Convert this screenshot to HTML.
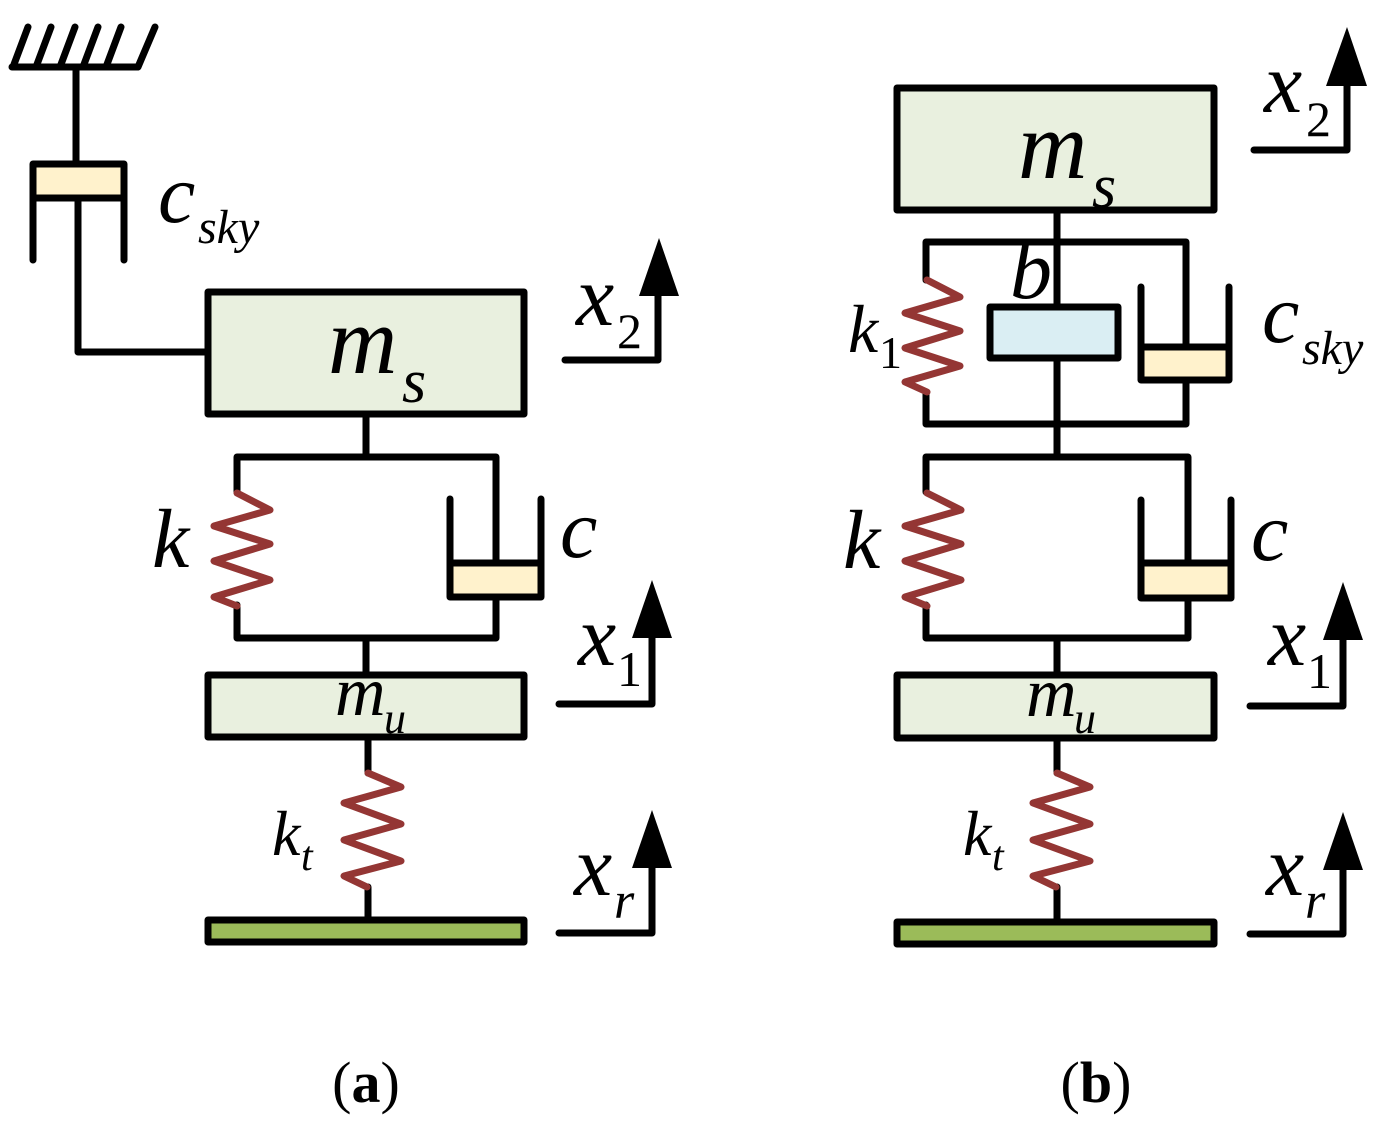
<!DOCTYPE html>
<html><head><meta charset="utf-8"><style>
html,body{margin:0;padding:0;background:#fff;}
svg{display:block;}
text{font-family:"Liberation Serif",serif;font-style:italic;fill:#000;}
.n{font-style:normal;}
</style></head><body>
<svg width="1386" height="1142" viewBox="0 0 1386 1142" xmlns="http://www.w3.org/2000/svg">
<g stroke="#000" stroke-width="7" fill="none" stroke-linecap="round" stroke-linejoin="round">
<!-- LEFT -->
<!-- ground -->
<path d="M12 67 H138 M13 67 L28 27 M36 67 L51 27 M60 67 L75 27 M83 67 L98 27 M106 67 L121 27 M138 67 L155 27"/>
<path d="M76 67 V165"/>
<!-- sky damper inverted -->
<rect x="33" y="166" width="90" height="31" fill="#FFF2CC" stroke="none"/>
<path d="M33 260 V164 H124 V260 M33 198 H124"/>
<path d="M78 198 V352 H208"/>
<!-- ms -->
<rect x="208" y="292" width="316" height="122" fill="#E9F0DF"/>
<path d="M366 414 V457 M237 457 H496 M237 457 V492 M237 605 V638 H496 V598 M496 457 V562"/>
<rect x="452" y="563" width="88" height="32" fill="#FFF2CC" stroke="none"/>
<path d="M450 499 V597 H541 V499 M450 563 H541"/>
<path d="M366 638 V675"/>
<rect x="208" y="675" width="316" height="62" fill="#E9F0DF"/>
<path d="M368 737 V773 M368 887 V920"/>
<rect x="208" y="920" width="316" height="22" fill="#9BBB59"/>
<!-- arrows -->
<path d="M565 360 H658 V290 M559 704 H652 V634 M559 933 H652 V863"/>
<!-- RIGHT -->
<rect x="897" y="88" width="317" height="122" fill="#E9F0DF"/>
<path d="M1057 210 V307 M926 242 H1186 M926 242 V280 M926 392 V424 H1186 V380 M1186 242 V347"/>
<rect x="990" y="307" width="128" height="51" fill="#DAEEF3"/>
<rect x="1143" y="347" width="84" height="32" fill="#FFF2CC" stroke="none"/>
<path d="M1141 287 V380 H1229 V287 M1141 347 H1229"/>
<path d="M1057 358 V457 M926 457 H1188 M926 457 V492 M926 605 V638 H1188 V598 M1188 457 V562"/>
<rect x="1143" y="563" width="86" height="33" fill="#FFF2CC" stroke="none"/>
<path d="M1141 500 V598 H1231 V500 M1141 563 H1231"/>
<path d="M1057 638 V675"/>
<rect x="897" y="675" width="317" height="63" fill="#E9F0DF"/>
<path d="M1057 738 V773 M1057 887 V920"/>
<rect x="897" y="922" width="317" height="22" fill="#9BBB59"/>
<path d="M1254 150 H1347 V84 M1250 706 H1343 V636 M1250 934 H1343 V866"/>
</g>
<!-- springs -->
<g stroke="#943634" stroke-width="7" fill="none" stroke-linejoin="round" stroke-linecap="round">
<path d="M237 493 L270 510 L214 526 L270 544 L214 561 L270 580 L214 597 L237 606"/>
<path d="M368 773 L401 787 L344 803 L401 824 L344 840 L401 861 L344 876 L367 887"/>
<path d="M927 280 L960 297 L905 313 L960 331 L905 348 L960 366 L905 382 L927 392"/>
<path d="M927 493 L961 510 L905 526 L961 544 L905 561 L961 580 L905 597 L927 606"/>
<path d="M1057 773 L1090 787 L1033 803 L1090 824 L1033 840 L1090 861 L1033 876 L1056 887"/>
</g>
<!-- arrowheads -->
<g fill="#000">
<polygon points="659,238 679,296 639,296"/>
<polygon points="652,580 672,638 632,638"/>
<polygon points="652,810 672,868 632,868"/>
<polygon points="1347,27 1367,86 1326,86"/>
<polygon points="1343,582 1363,640 1323,640"/>
<polygon points="1343,812 1363,870 1323,870"/>
</g>
<!-- labels left -->
<text x="158" y="222" font-size="84">c</text><text x="198" y="243" font-size="48">sky</text>
<text x="576" y="325" font-size="86">x</text><text x="617" y="348" font-size="50" class="n">2</text>
<text x="328" y="373" font-size="96">m</text><text x="402" y="402" font-size="62">s</text>
<text x="152" y="567" font-size="84">k</text>
<text x="560" y="557" font-size="84">c</text>
<text x="578" y="665" font-size="86">x</text><text x="617" y="686" font-size="50" class="n">1</text>
<text x="335" y="715" font-size="70">m</text><text x="384" y="733" font-size="44">u</text>
<text x="272" y="855" font-size="64">k</text><text x="301" y="870" font-size="42">t</text>
<text x="574" y="895" font-size="86">x</text><text x="614" y="918" font-size="52">r</text>
<!-- labels right -->
<text x="1264" y="112" font-size="86">x</text><text x="1306" y="136" font-size="50" class="n">2</text>
<text x="1018" y="178" font-size="96">m</text><text x="1092" y="207" font-size="62">s</text>
<text x="1010" y="298" font-size="84">b</text>
<text x="848" y="352" font-size="68">k</text><text x="879" y="368" font-size="46" class="n">1</text>
<text x="1262" y="342" font-size="84">c</text><text x="1302" y="364" font-size="48">sky</text>
<text x="843" y="568" font-size="84">k</text>
<text x="1251" y="560" font-size="84">c</text>
<text x="1268" y="665" font-size="86">x</text><text x="1307" y="688" font-size="50" class="n">1</text>
<text x="1026" y="716" font-size="70">m</text><text x="1074" y="733" font-size="44">u</text>
<text x="963" y="855" font-size="64">k</text><text x="992" y="870" font-size="42">t</text>
<text x="1266" y="895" font-size="86">x</text><text x="1305" y="918" font-size="52">r</text>
<!-- captions -->
<text x="366" y="1102" font-size="58" class="n" text-anchor="middle">(<tspan font-weight="bold">a</tspan>)</text>
<text x="1096" y="1102" font-size="58" class="n" text-anchor="middle">(<tspan font-weight="bold">b</tspan>)</text>
</svg>
</body></html>
